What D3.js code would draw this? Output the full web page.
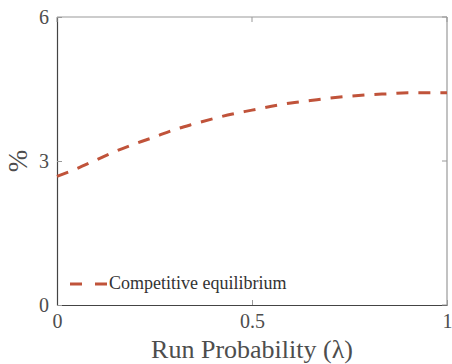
<!DOCTYPE html>
<html>
<head>
<meta charset="utf-8">
<script src="https://cdn.jsdelivr.net/npm/d3@7"></script>
</head>
<body style="margin:0">
<script>
// data
var lambda = [0, 0.05, 0.1, 0.15, 0.2, 0.25, 0.3, 0.35, 0.4, 0.45, 0.5,
              0.55, 0.6, 0.65, 0.7, 0.75, 0.8, 0.85, 0.9, 0.95, 1];
var equilibrium = [2.68, 2.84, 3.02, 3.20, 3.36, 3.50, 3.65, 3.77, 3.88, 3.98, 4.06,
                   4.14, 4.21, 4.26, 4.31, 4.35, 4.38, 4.40, 4.42, 4.42, 4.42];
var xTicks = [0, 0.5, 1];
var yTicks = [0, 3, 6];
var seriesName = "Competitive equilibrium";

var W = 452, H = 364;
var padL = 57, padR = 447, padT = 17, padB = 305;
var fontName = "Liberation Serif";

var svg = d3.select("body").append("svg")
  .attr("width", W).attr("height", H);

var x = d3.scaleLinear().domain([0, 1]).range([padL, padR]);
var y = d3.scaleLinear().domain([0, 6]).range([padB, padT]);

// box: top and right lighter
svg.append("line").attr("x1", padL).attr("x2", padR).attr("y1", padT).attr("y2", padT)
  .attr("stroke", "#999").attr("stroke-width", 1.2);
svg.append("line").attr("x1", padR).attr("x2", padR).attr("y1", padT).attr("y2", padB)
  .attr("stroke", "#999").attr("stroke-width", 1.2);

// bottom axis
var xAxis = svg.append("g").attr("transform", "translate(0," + padB + ")")
  .call(d3.axisBottom(x).tickValues(xTicks).tickSizeInner(-5).tickSizeOuter(0)
    .tickPadding(9).tickFormat(d3.format("")));
// left axis
var yAxis = svg.append("g").attr("transform", "translate(" + padL + ",0)")
  .call(d3.axisLeft(y).tickValues(yTicks).tickSizeInner(-5).tickSizeOuter(0)
    .tickPadding(8).tickFormat(d3.format("")));
[xAxis, yAxis].forEach(function(g) {
  g.attr("font-family", fontName).attr("font-size", 20);
  g.select(".domain").attr("stroke", "#444").attr("stroke-width", 1.2);
  g.selectAll(".tick line").attr("stroke", "#999");
  g.selectAll("text").attr("fill", "#4d4d4d");
});
// mirrored ticks on right and top
yTicks.forEach(function(v) {
  svg.append("line").attr("x1", padR).attr("x2", padR - 5).attr("y1", y(v)).attr("y2", y(v))
    .attr("stroke", "#999");
});
xTicks.forEach(function(v) {
  svg.append("line").attr("x1", x(v)).attr("x2", x(v)).attr("y1", padT).attr("y2", padT + 5)
    .attr("stroke", "#999");
});

// curve
var line = d3.line().x(function(d, i) { return x(lambda[i]); })
  .y(function(d) { return y(d); }).curve(d3.curveMonotoneX);
svg.append("path").datum(equilibrium)
  .attr("d", line).attr("fill", "none")
  .attr("stroke", "#c0533a").attr("stroke-width", 3)
  .attr("stroke-dasharray", "12,10");

// axis labels
svg.append("text").attr("x", 252).attr("y", 358)
  .attr("text-anchor", "middle").attr("font-family", fontName).attr("font-size", 26)
  .attr("fill", "#4d4d4d").text("Run Probability (λ)");
svg.append("text").attr("transform", "translate(27," + y(3) + ") rotate(-90)")
  .attr("text-anchor", "middle").attr("font-family", fontName).attr("font-size", 27)
  .attr("fill", "#4d4d4d").text("%");

// legend
svg.append("line").attr("x1", 70).attr("x2", 107).attr("y1", 284).attr("y2", 284)
  .attr("stroke", "#c0533a").attr("stroke-width", 3).attr("stroke-dasharray", "12,13");
svg.append("text").attr("x", 109).attr("y", 289).attr("font-family", fontName)
  .attr("font-size", 18).attr("fill", "#333").text(seriesName);
</script>
</body>
</html>
